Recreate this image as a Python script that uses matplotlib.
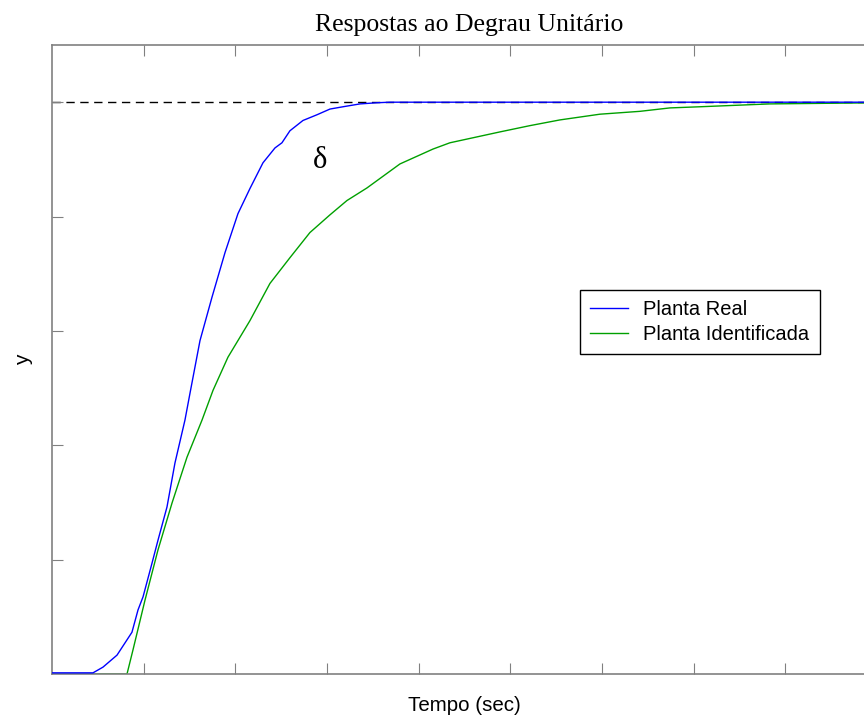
import matplotlib
matplotlib.use("Agg")
import matplotlib.pyplot as plt

# resposta ao degrau da planta real (amostrada)
t_real = [0, 0.447, 0.556, 0.709, 0.872, 0.938, 0.993, 1.091, 1.156, 1.254, 1.341,
          1.450, 1.505, 1.614, 1.745, 1.887, 2.028, 2.159, 2.301, 2.432, 2.508,
          2.595, 2.737, 2.890, 3.032, 3.174, 3.359, 3.544, 3.686, 9.0]
y_real = [0.002, 0.002, 0.012, 0.033, 0.073, 0.112, 0.135, 0.194, 0.234, 0.292,
          0.369, 0.444, 0.491, 0.583, 0.659, 0.737, 0.805, 0.849, 0.894, 0.920,
          0.929, 0.950, 0.968, 0.978, 0.988, 0.992, 0.997, 0.999, 1.0, 1.0]

# resposta do modelo identificado (1a ordem + atraso)
t_ident = [0, 0.818, 0.883, 1.014, 1.156, 1.309, 1.472, 1.636, 1.756, 1.919, 2.159,
           2.377, 2.595, 2.813, 3.032, 3.217, 3.435, 3.795, 4.155, 4.340, 4.885,
           5.213, 5.540, 5.976, 6.412, 6.740, 7.067, 7.830, 9.0]
y_ident = [0, 0, 0.042, 0.129, 0.217, 0.299, 0.379, 0.444, 0.496, 0.554, 0.618,
           0.683, 0.728, 0.772, 0.803, 0.828, 0.850, 0.892, 0.918, 0.929, 0.948,
           0.959, 0.969, 0.979, 0.984, 0.990, 0.992, 0.997, 0.999]

ref = 1.0

fig = plt.figure(figsize=(8.64, 7.19), dpi=100)
ax = fig.add_axes([0.0602, 0.0626, 0.955, 0.8748])

ax.plot([0, 9], [ref, ref], color='black', lw=1, ls=(0, (6, 4)), zorder=1)
ax.plot(t_real, y_real, color='#0000ff', lw=1, label='Planta Real', zorder=3)
ax.plot(t_ident, y_ident, color='#00a000', lw=1, label='Planta Identificada', zorder=2)

ax.set_xlim(0, 9)
ax.set_ylim(0, 1.1)
ax.set_xticks(range(1, 9))
ax.set_yticks([0.2, 0.4, 0.6, 0.8, 1.0])
ax.tick_params(direction='in', length=8, color='#808080', top=True, right=True,
               labelbottom=False, labelleft=False)
for s in ax.spines.values():
    s.set_color('#808080')
    s.set_linewidth(1.2)

ax.text(2.92, 0.898, 'δ', fontsize=22, ha='center', va='center',
        family='Liberation Serif')

ax.set_title('Respostas ao Degrau Unitário', family='Liberation Serif',
             fontsize=18.5, pad=10, x=0.505)
ax.set_xlabel('Tempo (sec)', family='Liberation Sans', fontsize=14.8, labelpad=16)
ax.set_ylabel('y', family='Liberation Sans', fontsize=15, labelpad=14)

leg = ax.legend(loc='upper left', bbox_to_anchor=(580 / 864, 1 - 290 / 719),
                bbox_transform=fig.transFigure,
                prop={'family': 'Liberation Sans', 'size': 14.5},
                fancybox=False, framealpha=1, edgecolor='black', borderpad=0.5,
                handlelength=1.9, handletextpad=0.75, labelspacing=0.3, borderaxespad=0)
leg.get_frame().set_linewidth(1)

fig.savefig('out.png', dpi=100)
